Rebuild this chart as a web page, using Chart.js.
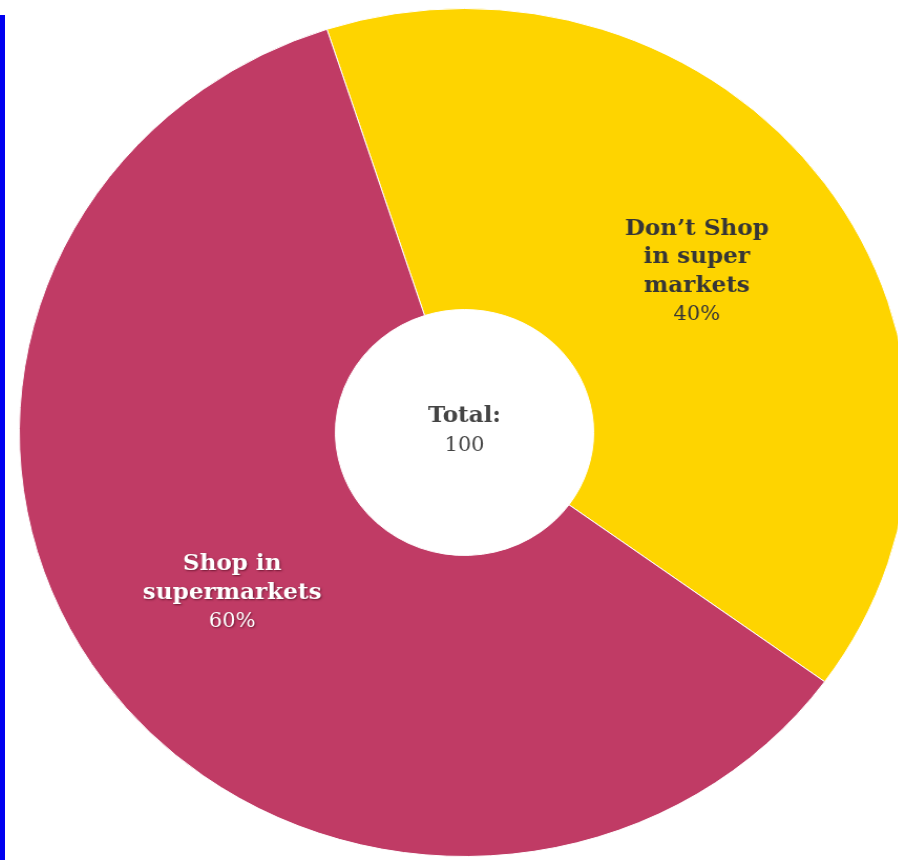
<!DOCTYPE html>
<html>
<head>
<meta charset="utf-8">
<script src="https://cdn.jsdelivr.net/npm/chart.js@4.4.1/dist/chart.umd.min.js"></script>
<style>
	html, body {
		margin: 0;
		padding: 0;
		background: #ffffff;
		overflow: hidden;
		width: 898px;
		height: 860px;
	}
	#edge {
		position: absolute;
		left: 0;
		top: 15px;
		width: 5px;
		height: 845px;
		background: #0000f0;
	}
	#wrap {
		position: absolute;
		left: 40px;
		top: 8px;
		width: 849px;
		height: 849px;
		transform: scaleX(1.05);
		transform-origin: 50% 50%;
	}
</style>
</head>
<body>
<div id="edge"></div>
<div id="wrap"><canvas id="chart" width="849" height="849"></canvas></div>
<script>
// shopping habits, share of respondents
var categories = ['Don\u2019t Shop in super markets', 'Shop in supermarkets'];
var labelLines = [
	['Don\u2019t Shop', 'in super', 'markets'],
	['Shop in', 'supermarkets']
];
var values = [40, 60];
var colors = ['#fed400', '#c03b65'];
var textColors = ['#363636', '#ffffff'];

var total = values.reduce(function(a, b) { return a + b; }, 0);
var serif = '"DejaVu Serif", "Liberation Serif", serif';

// slice captions at the middle of each arc, plus the total in the hole
var sliceLabels = {
	id: 'sliceLabels',
	afterDatasetsDraw: function(chart) {
		var ctx = chart.ctx;
		var arcs = chart.getDatasetMeta(0).data;
		var lineHeight = 28.5;
		ctx.save();
		ctx.textAlign = 'center';
		ctx.textBaseline = 'middle';
		arcs.forEach(function(arc, i) {
			var pos = arc.tooltipPosition();
			var lines = labelLines[i].slice();
			var pct = Math.round(values[i] / total * 100) + '%';
			var y = pos.y - (lines.length) * lineHeight / 2;
			ctx.fillStyle = textColors[i];
			if (i === 1) {
				ctx.shadowColor = 'rgba(60, 0, 20, 0.6)';
				ctx.shadowBlur = 2;
				ctx.shadowOffsetX = 1;
				ctx.shadowOffsetY = 1;
			} else {
				ctx.shadowColor = 'transparent';
			}
			ctx.font = 'bold 22px ' + serif;
			lines.forEach(function(line, j) {
				ctx.fillText(line, pos.x, y + j * lineHeight);
			});
			ctx.font = '20px ' + serif;
			ctx.fillText(pct, pos.x, y + lines.length * lineHeight);
		});

		var c = arcs[0];
		ctx.shadowColor = 'transparent';
		ctx.fillStyle = '#444444';
		ctx.font = 'bold 22px ' + serif;
		ctx.fillText('Total:', c.x, c.y - 16);
		ctx.font = '20px ' + serif;
		ctx.fillText(String(total), c.x, c.y + 13);
		ctx.restore();
	}
};

new Chart(document.getElementById('chart'), {
	type: 'doughnut',
	data: {
		labels: categories,
		datasets: [{
			data: values,
			backgroundColor: colors,
			borderColor: '#ffffff',
			borderWidth: 1
		}]
	},
	options: {
		responsive: false,
		animation: false,
		rotation: -18,
		cutout: '29%',
		layout: { padding: 0 },
		plugins: {
			legend: { display: false },
			tooltip: { enabled: false }
		}
	},
	plugins: [sliceLabels]
});
</script>
</body>
</html>
